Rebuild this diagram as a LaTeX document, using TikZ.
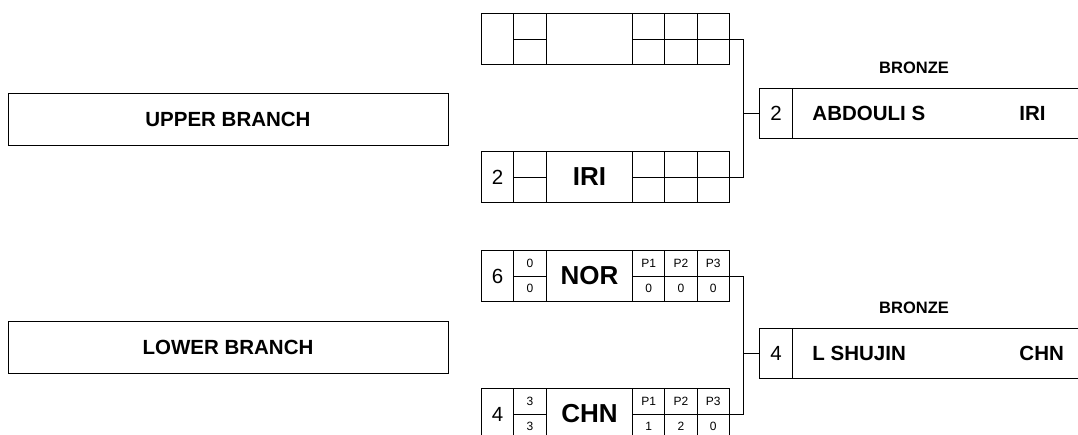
\documentclass[tikz,border=0pt]{standalone}
\usepackage{fontspec}
\setmainfont{Liberation Sans}
\usetikzlibrary{positioning}

\newcommand{\bout}[7]{% name, top, seed, scores, team, penalties
  \begin{scope}[shift={(481,#2)}]
    \node[cell=32pt,seedtxt] (#1seed) at (0,0) {#3};
    \node[half=33pt,tinytxt] (#1a) at (32,0) {#4};
    \node[half=33pt,tinytxt] (#1b) at (32,25.5) {#5};
    \node[cell=86pt,teamtxt] (#1team) at (65,0) {#6};
    \foreach \lab/\val [count=\i] in {#7} {
      \node[half=32.33pt,tinytxt] (#1p\i t) at (151+32.33*\i-32.33,0) {\lab};
      \node[half=32.33pt,tinytxt] (#1p\i b) at (151+32.33*\i-32.33,25.5) {\val};
    }
  \end{scope}}

\begin{document}
\begin{tikzpicture}[x=1pt,y=-1pt,line width=0.9pt,
  cell/.style={draw,inner sep=0pt,anchor=north west,minimum width=#1,minimum height=51pt},
  half/.style={draw,inner sep=0pt,anchor=north west,minimum width=#1,minimum height=25.5pt},
  seedtxt/.style={font=\fontsize{20.5}{24}\selectfont},
  tinytxt/.style={font=\fontsize{12}{14}\selectfont},
  teamtxt/.style={font=\fontsize{26}{30}\selectfont\bfseries},
  big/.style={font=\fontsize{20.5}{24}\selectfont\bfseries},
  medal/.style={font=\fontsize{16.5}{20}\selectfont\bfseries},
  branch/.style={draw,minimum width=440pt,minimum height=52pt,big}]
  \useasboundingbox (0,0) rectangle (1078,434);
  \clip (0,0) rectangle (1078,434);
  % branch titles
  \node[branch] (upper) at (228,119) {UPPER BRANCH};
  \node[branch] (lower) at (228,347.5) {LOWER BRANCH};
  % ---- upper branch bouts
  \bout{ua}{13}{}{}{}{}{/,/,/}
  \bout{ub}{151}{2}{}{}{IRI}{/,/,/}
  \draw (uap3t.south east) -- ++(14,0) |- (ubp3t.south east);
  % ---- lower branch bouts
  \bout{nor}{250}{6}{0}{0}{NOR}{P1/0,P2/0,P3/0}
  \bout{chn}{388}{4}{3}{3}{CHN}{P1/1,P2/2,P3/0}
  \draw (norp3t.south east) -- ++(14,0) |- (chnp3t.south east);
  % ---- bronze results
  \foreach \nm/\y/\sd/\ath/\noc in {bu/88/2/ABDOULI S/IRI,bl/328/4/L SHUJIN/CHN} {
    \node[medal] (\nm medal) at (914,\y-20) {BRONZE};
    \node[cell=33pt,minimum height=50pt,seedtxt] (\nm seed) at (759,\y) {\sd};
    \node[cell=340pt,minimum height=50pt] (\nm name) at (792,\y) {};
    \node[big,anchor=west,inner sep=0pt] (\nm ath) at (812,\y+25) {\ath};
    \node[big,anchor=west,inner sep=0pt] (\nm noc) at (1019,\y+25) {\noc};
    \draw (\nm seed.west) -- ++(-16,0);
  }
\end{tikzpicture}
\end{document}
